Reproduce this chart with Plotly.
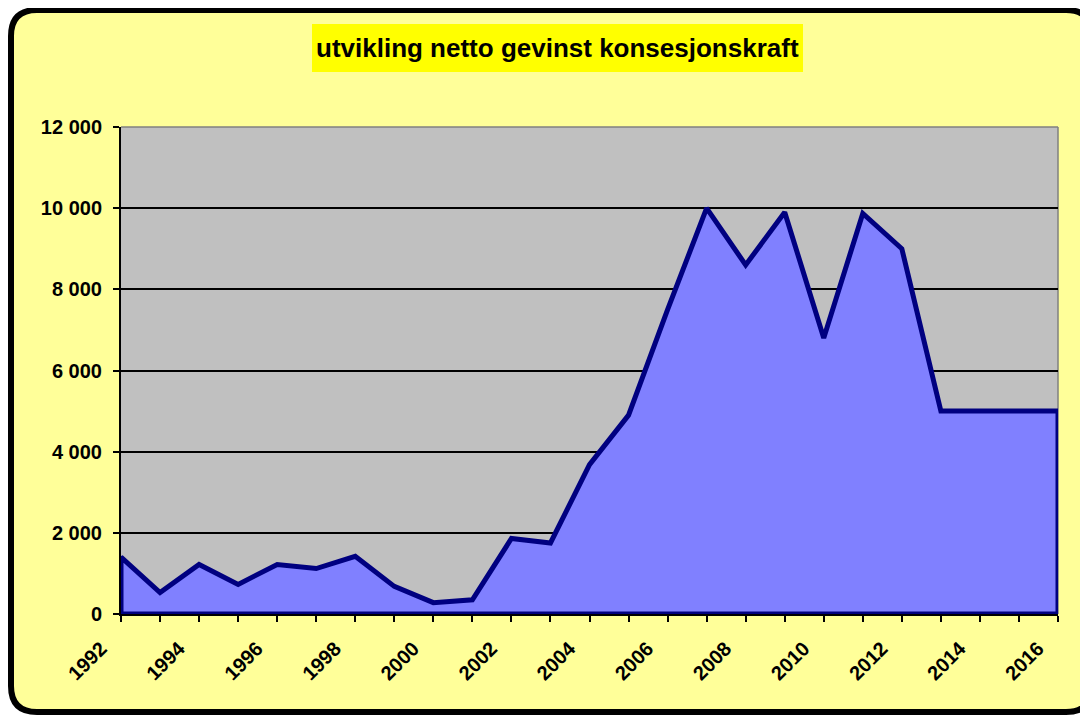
import plotly.graph_objects as go

years = list(range(1992, 2017))
values = [1400, 530, 1220, 730, 1220, 1120, 1420, 680, 280, 350,
          1860, 1750, 3680, 4900, 7500, 10000, 8600, 9900, 6800, 9870,
          9000, 5000, 5000, 5000, 5000]
title_text = "utvikling netto gevinst konsesjonskraft"
y_ticks = [0, 2000, 4000, 6000, 8000, 10000, 12000]
x_label_years = list(range(1992, 2017, 2))

# the page body adds an 8px margin, so work in reference pixels minus 8
OFF = 8
W, H = 1088 - OFF, 717 - OFF
L, R, T, B = 121 - OFF, 1058 - OFF, 127 - OFF, 614 - OFF
PW, PH = R - L, B - T


def px(x):
    return (x - OFF - L) / PW


def py(y):
    return (B - (y - OFF)) / PH


# closed polygon: baseline -> series -> baseline
poly_x = [years[0]] + years + [years[-1], years[0]]
poly_y = [0] + values + [0, 0]

fig = go.Figure()
fig.add_trace(go.Scatter(
    x=poly_x, y=poly_y, mode="lines", fill="toself",
    fillcolor="#8080FF", line=dict(color="#000080", width=5),
    hoverinfo="skip", showlegend=False, cliponaxis=False,
))

# rounded outer frame (reference pixel coordinates)
bl, bt, br, bb, rad = 11, 10, 1092, 712, 26
rx, ry = rad / PW, rad / PH
x0, x1 = px(bl), px(br)
y0, y1 = py(bb), py(bt)
path = (f"M {x0+rx},{y1} L {x1-rx},{y1} Q {x1},{y1} {x1},{y1-ry} "
        f"L {x1},{y0+ry} Q {x1},{y0} {x1-rx},{y0} "
        f"L {x0+rx},{y0} Q {x0},{y0} {x0},{y0+ry} "
        f"L {x0},{y1-ry} Q {x0},{y1} {x0+rx},{y1} Z")

shapes = [
    dict(type="path", path=path, xref="paper", yref="paper",
         fillcolor="#FFFF99", line=dict(color="black", width=6), layer="below"),
    dict(type="rect", xref="paper", yref="paper", x0=0, x1=1, y0=0, y1=1,
         fillcolor="#C0C0C0", line=dict(width=0), layer="below"),
    dict(type="rect", xref="paper", yref="paper",
         x0=px(312), x1=px(803), y0=py(72), y1=py(24),
         fillcolor="#FFFF00", line=dict(width=0), layer="above"),
    dict(type="line", xref="paper", yref="paper", x0=0, x1=1, y0=1, y1=1,
         line=dict(color="#808080", width=1.5), layer="above"),
    dict(type="line", xref="paper", yref="paper", x0=1, x1=1, y0=0, y1=1,
         line=dict(color="#808080", width=1.5), layer="between"),
]

font_family = "Arial, Liberation Sans, sans-serif"

fig.update_layout(
    width=W, height=H,
    margin=dict(l=L, r=W - R, t=T, b=H - B, pad=0),
    paper_bgcolor="white",
    plot_bgcolor="#C0C0C0",
    separators=". ",
    shapes=shapes,
    annotations=[dict(
        text=title_text, xref="paper", yref="paper",
        x=px(557.5), y=py(48), xanchor="center", yanchor="middle",
        showarrow=False,
        font=dict(family=font_family, size=26, color="black", weight="bold"),
    )],
    xaxis=dict(
        range=[years[0], years[-1]],
        tickvals=x_label_years, ticktext=[str(v) for v in x_label_years],
        tickangle=-45, ticks="outside", ticklen=6, tickwidth=1.5,
        tickcolor="black",
        minor=dict(dtick=1, tick0=years[0], ticks="outside", ticklen=6,
                   tickwidth=1.5, tickcolor="black", showgrid=False),
        showgrid=False, zeroline=False,
        showline=True, linecolor="black", linewidth=2,
        tickfont=dict(family=font_family, size=20, color="black", weight="bold"),
        ticklabelshift=-20, ticklabelstandoff=7,
    ),
    yaxis=dict(
        range=[0, 12000], tickvals=y_ticks, tickformat=",d",
        ticks="outside", ticklen=6, tickwidth=1.5, tickcolor="black",
        showgrid=True, gridcolor="black", gridwidth=1.5,
        zeroline=False, showline=True, linecolor="black", linewidth=2,
        tickfont=dict(family=font_family, size=20, color="black", weight="bold"),
        ticklabelstandoff=7,
    ),
)

fig.write_html("out.html")
